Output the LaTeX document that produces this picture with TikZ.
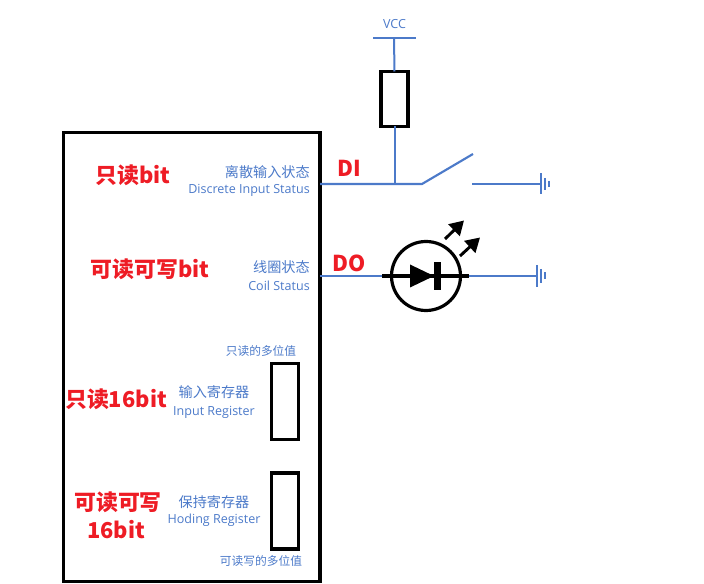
\documentclass[tikz,border=0pt]{standalone}
\usepackage{fontspec}
\setmainfont{Open Sans}
\newfontfamily\cjk{Noto Sans CJK SC}
\usetikzlibrary{arrows.meta}
\definecolor{wireblue}{HTML}{4C7AC9}
\definecolor{labelred}{HTML}{EE1C25}
\tikzset{
  wire/.style={draw=wireblue,line width=1.6pt},
  thinwire/.style={draw=wireblue,line width=1.5pt},
  blk/.style={draw=black,line width=2.4pt},
  boxshape/.style={draw=black,line width=2.6pt,rectangle,inner sep=0pt,outer sep=0pt,fill=white},
  redb/.style={text=labelred,font=\cjk\bfseries\fontsize{16.4}{19}\selectfont,inner sep=0pt,align=center},
  bluezh/.style={text=wireblue,font=\cjk\fontsize{10.6}{12}\selectfont,inner sep=0pt},
  blueen/.style={text=wireblue,font=\fontsize{9.4}{11}\selectfont,inner sep=0pt},
  smallzh/.style={text=wireblue,font=\cjk\fontsize{8.8}{10}\selectfont,inner sep=0pt},
}
\begin{document}
\begin{tikzpicture}[x=0.75pt,y=-0.75pt]
\useasboundingbox (0,0) rectangle (704,584);
% main block
\node[boxshape,minimum width=256.5*0.75pt,minimum height=449*0.75pt,fill=none,anchor=north west] (chip) at (63.5,132.5) {};
% coordinates
\coordinate (di) at (320,184);
\coordinate (junc) at (394.5,184);
\coordinate (swa) at (422,184);
\coordinate (swb) at (473,154);
\coordinate (swc) at (472,184);
\coordinate (g1) at (541,184);
\coordinate (do) at (320,276);
\coordinate (la) at (382,276);
\coordinate (lb) at (469,276);
\coordinate (g2) at (537,276);
\coordinate (vcctop) at (394,38);
% resistor
\node[boxshape,minimum width=27*0.75pt,minimum height=55*0.75pt] (res) at (394.5,99) {};
\draw[thinwire] (vcctop) -- (res.north);
\draw[thinwire] (res.south) -- (junc);
\draw[thinwire] (373,38) -- (416,38);
\draw[wire] (di) -- (swa) -- (swb);
\draw[wire] (swc) -- (g1);
% ground 1
\draw[thinwire] (g1)++(0,-10.5) -- ++(0,21);
\draw[thinwire] (g1)++(4,-6) -- ++(0,12);
\draw[thinwire] (g1)++(8,-3) -- ++(0,6);
% LED
\draw[wire] (do) -- (la);
\draw[wire] (lb) -- (g2);
\draw[blk] (la) -- (lb);
\node[draw=black,line width=2.4pt,circle,minimum size=69*0.75pt,inner sep=0pt,outer sep=0pt] (led) at (426,276) {};
\fill[black] (410,264.5) -- (434,276) -- (410,287.5) -- cycle;
\fill[black] (434,262) rectangle (441,290);
\draw[black,line width=2.2pt,-{Triangle[length=10.5pt,width=12pt]}] (445,239) -- (464,220.5);
\draw[black,line width=2.2pt,-{Triangle[length=10.5pt,width=12pt]}] (460,256) -- (480,237.5);
% ground 2
\draw[thinwire] (g2)++(0,-11) -- ++(0,22);
\draw[thinwire] (g2)++(4,-7) -- ++(0,14);
\draw[thinwire] (g2)++(8,-3.5) -- ++(0,7);
% registers
\node[boxshape,minimum width=27*0.75pt,minimum height=76*0.75pt] (ir) at (285,401.5) {};
\node[boxshape,minimum width=27*0.75pt,minimum height=76*0.75pt] (hr) at (285,511) {};
% labels
\node[blueen] (vcc) at (394.5,24.5) {VCC};
\node[redb] (ldi) at (349,168.5) {DI};
\node[redb] (ldo) at (349,263.5) {DO};
\node[redb] (r1) at (133,175.5) {只读bit};
\node[redb] (r2) at (150,269.5) {可读可写bit};
\node[redb] (r3) at (116,399.5) {只读16bit};
\node[redb] (r4) at (118,502.5) {可读可写};
\node[redb] (r5) at (116,529.5) {16bit};
\node[bluezh,anchor=east] (a1) at (310,172) {离散输入状态};
\node[blueen,anchor=east] (a2) at (310,190.5) {Discrete Input Status};
\node[bluezh,anchor=east] (b1) at (310,267) {线圈状态};
\node[blueen,anchor=east] (b2) at (310,285.5) {Coil Status};
\node[smallzh] (c0) at (261,351.5) {只读的多位值};
\node[bluezh] (c1) at (214,392) {输入寄存器};
\node[blueen] (c2) at (214,412) {Input Register};
\node[bluezh] (d1) at (214,502) {保持寄存器};
\node[blueen] (d2) at (214,520) {Hoding Register};
\node[smallzh] (d0) at (261,561.5) {可读写的多位值};
\end{tikzpicture}
\end{document}
